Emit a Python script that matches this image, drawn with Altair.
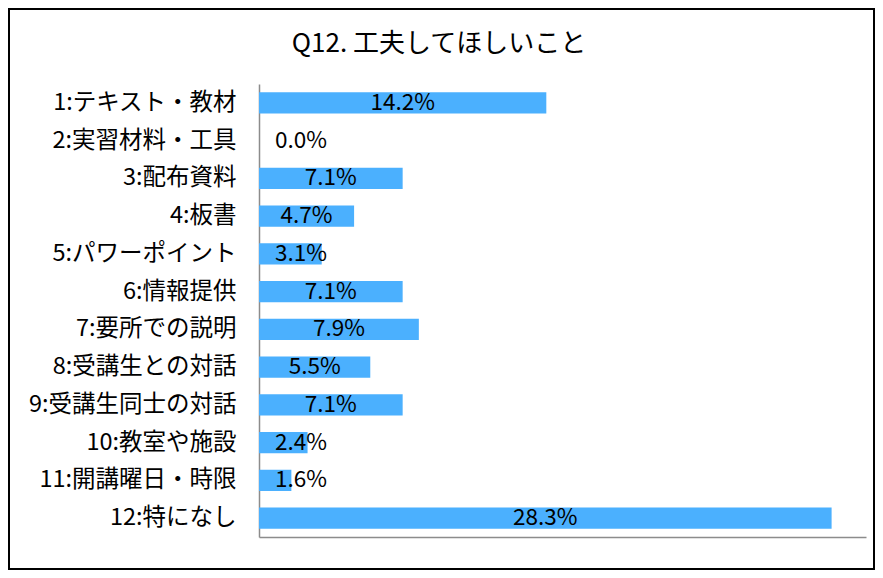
import altair as alt
import pandas as pd

title_text = "Q12. 工夫してほしいこと"
categories = [
    "1:テキスト・教材",
    "2:実習材料・工具",
    "3:配布資料",
    "4:板書",
    "5:パワーポイント",
    "6:情報提供",
    "7:要所での説明",
    "8:受講生との対話",
    "9:受講生同士の対話",
    "10:教室や施設",
    "11:開講曜日・時限",
    "12:特になし",
]
values = [14.2, 0.0, 7.1, 4.7, 3.1, 7.1, 7.9, 5.5, 7.1, 2.4, 1.6, 28.3]

df = pd.DataFrame({"cat": categories, "value": values})

FONT = "Noto Sans CJK JP"
BAR = "#4BB0FE"

base = alt.Chart(df).encode(
    y=alt.Y(
        "cat:N",
        sort=categories,
        title=None,
        axis=alt.Axis(
            ticks=False,
            labelPadding=23,
            labelFontSize=23.5,
            labelFont=FONT,
            labelColor="#000000",
            domainColor="#8c8c8c",
            domainWidth=1.5,
            labelLimit=300,
        ),
        scale=alt.Scale(paddingInner=0.44, paddingOuter=0.22),
    )
)

bars = base.mark_bar(color=BAR).encode(
    x=alt.X(
        "value:Q",
        title=None,
        scale=alt.Scale(domain=[0, 30], nice=False),
        axis=alt.Axis(
            labels=False,
            ticks=False,
            grid=False,
            domainColor="#8c8c8c",
            domainWidth=1.5,
        ),
    )
)

texts = base.transform_calculate(
    pos="max(datum.value / 2, 2.07)",
    label="format(datum.value, '.1f') + '%'",
).mark_text(
    font=FONT, fontSize=22.5, color="#000000", align="center", baseline="middle"
).encode(
    x="pos:Q",
    text="label:N",
)

one = pd.DataFrame({"t": [title_text]})

title = alt.Chart(one).mark_text(
    font=FONT, fontSize=26, color="#000000", align="center", baseline="middle"
).encode(
    x=alt.value(180),
    y=alt.value(-40),
    text="t:N",
)

frame = alt.Chart(one).mark_rect(
    filled=False, stroke="#000000", strokeWidth=2, clip=False
).encode(
    x=alt.value(-250),
    x2=alt.value(615),
    y=alt.value(-75),
    y2=alt.value(485),
)

chart = (
    alt.layer(bars, texts, title, frame)
    .properties(
        width=607,
        height=453,
        padding={"left": 251, "top": 76, "right": 9, "bottom": 33},
        autosize=alt.AutoSizeParams(type="none"),
        background="#ffffff",
    )
    .configure_view(stroke=None)
)

chart.save("out.html", embed_options={"renderer": "svg", "actions": False})
